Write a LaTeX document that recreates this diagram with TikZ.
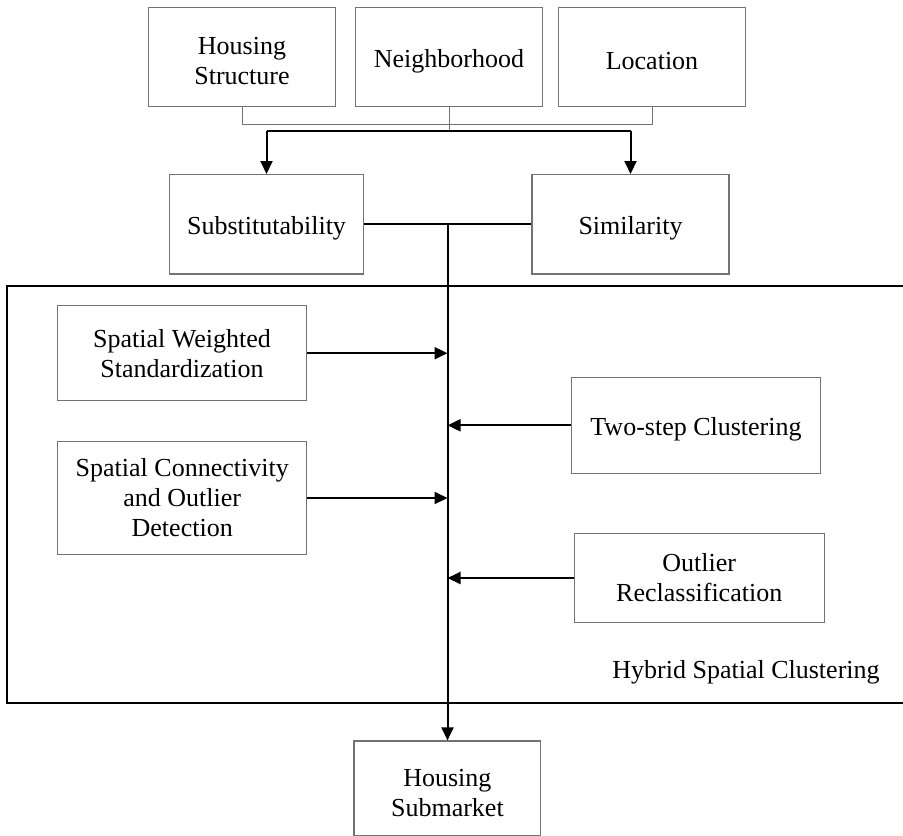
\documentclass[tikz,border=0pt]{standalone}
\usepackage{fontspec}
\setmainfont{Liberation Serif}
\usetikzlibrary{arrows.meta,positioning}
\newcommand{\boxstrut}{\rule{0pt}{13pt}}

\begin{document}
\begin{tikzpicture}[
    x=0.5pt, y=-0.5pt,
    block/.style={draw=black!55, line width=0.6pt, rectangle, align=center, inner sep=2pt, font=\fontsize{13}{15}\selectfont},
    arrow/.style={-{Triangle[length=6.5pt,width=6pt]}, line width=1pt},
    link/.style={line width=1pt},
    tee/.style={draw=black!55, line width=0.5pt}
]
    \useasboundingbox (0,0) rectangle (903,835);

    \node [block, minimum width=93.4pt, minimum height=49.7pt] (housing) at (242,57) {\boxstrut Housing\\Structure};
    \node [block, minimum width=93.3pt, minimum height=49.7pt] (hood) at (449,57) {\boxstrut Neighborhood};
    \node [block, minimum width=93.5pt, minimum height=49.7pt] (location) at (652,57) {\boxstrut Location};

    \node [block, minimum width=96.9pt, minimum height=49.7pt] (subst) at (266.5,224.3) {\boxstrut Substitutability};
    \node [block, minimum width=98.5pt, minimum height=49.7pt] (simil) at (630.5,224.3) {\boxstrut Similarity};

    % hybrid spatial clustering frame
    \draw [link] (7.3,286) rectangle (910,703);
    \node [anchor=base, font=\fontsize{13}{15}\selectfont] (hybrid) at (746,678) {Hybrid Spatial Clustering};

    \node [block, minimum width=124.7pt, minimum height=47.5pt] (swstd) at (182,353.2) {Spatial Weighted\\Standardization};
    \node [block, minimum width=124.5pt, minimum height=56.3pt] (scod) at (182.2,498) {Spatial Connectivity\\and Outlier\\Detection};
    \node [block, minimum width=124.7pt, minimum height=48pt] (twostep) at (696,425.3) {\boxstrut Two-step Clustering};
    \node [block, minimum width=125.1pt, minimum height=44.6pt] (outlier) at (699.2,578) {Outlier\\Reclassification};

    \node [block, minimum width=93.4pt, minimum height=47.5pt] (submarket) at (447.4,788.5) {\boxstrut Housing\\Submarket};

    \coordinate (teeline) at (449,124.4);
    \coordinate (split) at (449,131);
    \coordinate (merge) at (447.5,224.3);

    \draw [tee] (housing.south) |- (teeline) -| (location.south);
    \draw [tee] (hood.south) -- (split);
    \draw [link] (subst.north |- split) -- (simil.north |- split);
    \draw [arrow] (subst.north |- split) -- (subst.north);
    \draw [arrow] (simil.north |- split) -- (simil.north);

    \draw [link] (subst.east) -- (simil.west);
    \draw [arrow] (merge) -- (merge |- submarket.north);

    \draw [arrow] (swstd.east) -- (swstd.east -| merge);
    \draw [arrow] (scod.east) -- (scod.east -| merge);
    \draw [arrow] (twostep.west) -- (twostep.west -| merge);
    \draw [arrow] (outlier.west) -- (outlier.west -| merge);

\end{tikzpicture}
\end{document}
